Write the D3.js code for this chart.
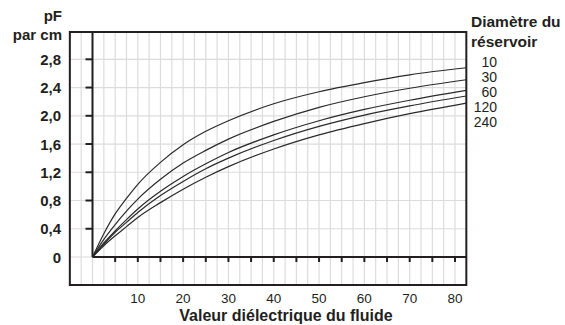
<!DOCTYPE html>
<html>
<head>
<meta charset="utf-8">
<script src="https://cdn.jsdelivr.net/npm/d3@7"></script>
<style>
  body { margin: 0; background: #fff; }
  svg { display: block; font-family: "Liberation Sans", Arial, sans-serif; }
</style>
</head>
<body>
<svg id="chart" width="565" height="325"></svg>
<script>
// dielectric value (x) at which each curve was read
const dielectric = [0, 2.5, 5, 7.5, 10, 15, 20, 25, 30, 40, 50, 60, 70, 82.5];

// pF per cm, one list per tank diameter
const d10  = [0, 0.33, 0.61, 0.83, 1.03, 1.34, 1.59, 1.78, 1.93, 2.17, 2.34, 2.47, 2.58, 2.68];
const d30  = [0, 0.25, 0.46, 0.65, 0.82, 1.10, 1.33, 1.51, 1.67, 1.92, 2.12, 2.27, 2.39, 2.51];
const d60  = [0, 0.20, 0.37, 0.53, 0.68, 0.93, 1.14, 1.32, 1.48, 1.73, 1.93, 2.09, 2.22, 2.36];
const d120 = [0, 0.18, 0.35, 0.49, 0.63, 0.87, 1.07, 1.25, 1.40, 1.65, 1.85, 2.01, 2.14, 2.28];
const d240 = [0, 0.16, 0.30, 0.43, 0.56, 0.77, 0.96, 1.13, 1.28, 1.53, 1.73, 1.89, 2.03, 2.18];

const diameters = ["10", "30", "60", "120", "240"];
const seriesValues = [d10, d30, d60, d120, d240];

const yTicks = [0, 0.4, 0.8, 1.2, 1.6, 2.0, 2.4, 2.8];
const xTickLabels = [10, 20, 30, 40, 50, 60, 70, 80];

const svg = d3.select("#chart");
const ink = "#231f20";
const gridColor = "#dcdcdc";

const x = d3.scaleLinear().domain([0, 80]).range([92.5, 455]);
const y = d3.scaleLinear().domain([0, 2.8]).range([257, 59.3]);

// frame edges
const frameLeft = x(-5), frameRight = x(82.5), frameTop = 32, frameBottom = 285;

// grid
svg.append("g")
  .selectAll("line")
  .data(d3.range(-2.5, 82.5, 2.5))
  .join("line")
  .attr("x1", (d) => x(d)).attr("x2", (d) => x(d))
  .attr("y1", frameTop).attr("y2", frameBottom)
  .attr("stroke", gridColor).attr("stroke-width", 1.2);

svg.append("g")
  .selectAll("line")
  .data(yTicks)
  .join("line")
  .attr("x1", frameLeft).attr("x2", frameRight)
  .attr("y1", (d) => y(d)).attr("y2", (d) => y(d))
  .attr("stroke", gridColor).attr("stroke-width", 1.2);

// axes at zero
svg.append("line")
  .attr("x1", x(0)).attr("x2", x(0))
  .attr("y1", frameTop).attr("y2", y(0))
  .attr("stroke", ink).attr("stroke-width", 2);

svg.append("line")
  .attr("x1", x(0)).attr("x2", frameRight)
  .attr("y1", y(0)).attr("y2", y(0))
  .attr("stroke", ink).attr("stroke-width", 2);

// y ticks pointing left
svg.append("g")
  .selectAll("line")
  .data(yTicks.filter((d) => d > 0))
  .join("line")
  .attr("x1", x(0) - 7).attr("x2", x(0))
  .attr("y1", (d) => y(d)).attr("y2", (d) => y(d))
  .attr("stroke", ink).attr("stroke-width", 2);

// x ticks pointing down, every 5
svg.append("g")
  .selectAll("line")
  .data(d3.range(5, 85, 5))
  .join("line")
  .attr("x1", (d) => x(d)).attr("x2", (d) => x(d))
  .attr("y1", y(0)).attr("y2", y(0) + 5)
  .attr("stroke", ink).attr("stroke-width", 2);

// outer frame
svg.append("rect")
  .attr("x", frameLeft).attr("y", frameTop)
  .attr("width", frameRight - frameLeft).attr("height", frameBottom - frameTop)
  .attr("fill", "none")
  .attr("stroke", ink).attr("stroke-width", 2);

// curves
const line = d3.line()
  .x((d) => x(d[0]))
  .y((d) => y(d[1]))
  .curve(d3.curveMonotoneX);

svg.append("g")
  .selectAll("path")
  .data(seriesValues)
  .join("path")
  .attr("d", (vals) => line(dielectric.map((e, i) => [e, vals[i]])))
  .attr("fill", "none")
  .attr("stroke", "#2a2a2a")
  .attr("stroke-width", 1.2);

// y labels
svg.append("g")
  .selectAll("text")
  .data(yTicks)
  .join("text")
  .attr("x", 61)
  .attr("y", (d) => y(d) + 5.5)
  .attr("text-anchor", "end")
  .style("font-size", "15px")
  .style("font-weight", "bold")
  .attr("fill", ink)
  .text((d) => d === 0 ? "0" : d.toFixed(1).replace(".", ","));

svg.append("text")
  .attr("x", 62).attr("y", 21)
  .attr("text-anchor", "end")
  .style("font-size", "15px").style("font-weight", "bold")
  .attr("fill", ink)
  .text("pF");

svg.append("text")
  .attr("x", 62).attr("y", 40)
  .attr("text-anchor", "end")
  .style("font-size", "15px").style("font-weight", "bold")
  .attr("fill", ink)
  .text("par cm");

// x labels
svg.append("g")
  .selectAll("text")
  .data(xTickLabels)
  .join("text")
  .attr("x", (d) => x(d))
  .attr("y", 303)
  .attr("text-anchor", "middle")
  .style("font-size", "13.5px")
  .attr("fill", ink)
  .text((d) => d);

svg.append("text")
  .attr("x", 286).attr("y", 321)
  .attr("text-anchor", "middle")
  .style("font-size", "16px").style("font-weight", "bold")
  .attr("fill", ink)
  .text("Valeur diélectrique du fluide");

// legend of tank diameters
svg.append("text")
  .attr("x", 471).attr("y", 27)
  .style("font-size", "15.5px").style("font-weight", "bold")
  .attr("fill", ink)
  .text("Diamètre du");

svg.append("text")
  .attr("x", 471).attr("y", 47)
  .style("font-size", "15.5px").style("font-weight", "bold")
  .attr("fill", ink)
  .text("réservoir");

svg.append("g")
  .selectAll("text")
  .data(diameters)
  .join("text")
  .attr("x", 497)
  .attr("y", (d, i) => 67 + i * 15)
  .attr("text-anchor", "end")
  .style("font-size", "14px")
  .attr("fill", ink)
  .text((d) => d);
</script>
</body>
</html>
